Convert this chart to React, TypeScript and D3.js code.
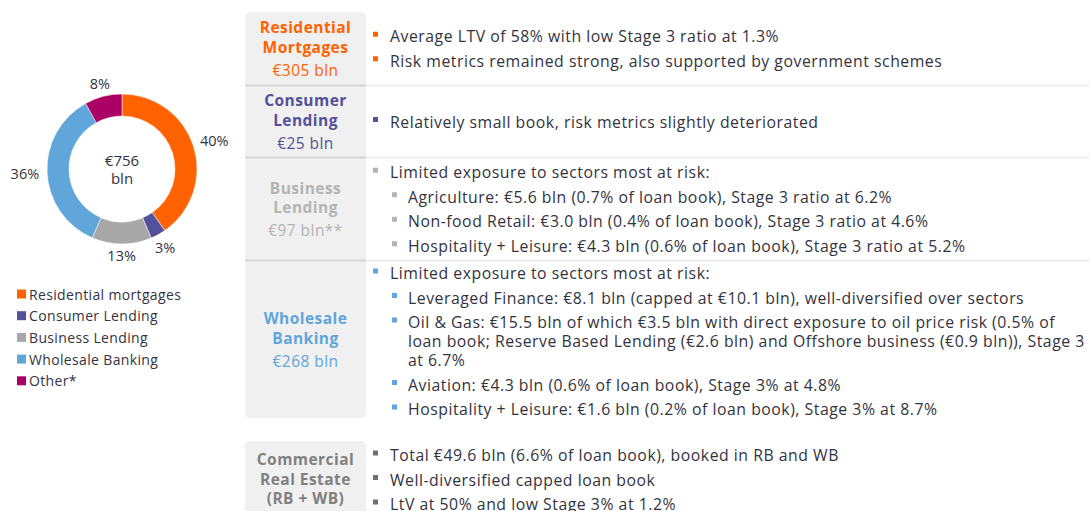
import React from "react";
import * as d3 from "d3";

// ---- Data ----
const segmentNames = ["Residential mortgages", "Consumer Lending", "Business Lending", "Wholesale Banking", "Other*"];
const segmentValues = [305, 25, 97, 268, 61];
const segmentLabels = ["40%", "3%", "13%", "36%", "8%"];
const segmentColors = ["#FF6200", "#525199", "#A8A8A8", "#60A6DA", "#AB0066"];
const totalLabel = ["€756", "bln"];

const rowTitles = [
  ["Residential", "Mortgages", "€305 bln"],
  ["Consumer", "Lending", "€25 bln"],
  ["Business", "Lending", "€97 bln**"],
  ["Wholesale", "Banking", "€268 bln"],
  ["Commercial", "Real Estate", "(RB + WB)"],
];
const rowTitleBoldCount = [2, 2, 2, 2, 3];
const rowColors = ["#FF6200", "#525199", "#B4B4B4", "#60A6DA", "#808080"];
const rowBulletColors = ["#FF6200", "#525199", "#B4B4B4", "#60A6DA", "#707070"];

// each bullet: [level, lines...]
const rowBullets: [number, string[]][][] = [
  [
    [0, ["Average LTV of 58% with low Stage 3 ratio at 1.3%"]],
    [0, ["Risk metrics remained strong, also supported by government schemes"]],
  ],
  [[0, ["Relatively small book, risk metrics slightly deteriorated"]]],
  [
    [0, ["Limited exposure to sectors most at risk:"]],
    [1, ["Agriculture: €5.6 bln (0.7% of loan book), Stage 3 ratio at 6.2%"]],
    [1, ["Non-food Retail: €3.0 bln (0.4% of loan book), Stage 3 ratio at 4.6%"]],
    [1, ["Hospitality + Leisure: €4.3 bln (0.6% of loan book), Stage 3 ratio at 5.2%"]],
  ],
  [
    [0, ["Limited exposure to sectors most at risk:"]],
    [1, ["Leveraged Finance: €8.1 bln (capped at €10.1 bln), well-diversified over sectors"]],
    [1, [
      "Oil & Gas: €15.5 bln of which €3.5 bln with direct exposure to oil price risk (0.5% of",
      "loan book; Reserve Based Lending (€2.6 bln) and Offshore business (€0.9 bln)), Stage 3",
      "at 6.7%",
    ]],
    [1, ["Aviation: €4.3 bln (0.6% of loan book), Stage 3% at 4.8%"]],
    [1, ["Hospitality + Leisure: €1.6 bln (0.2% of loan book), Stage 3% at 8.7%"]],
  ],
  [
    [0, ["Total €49.6 bln (6.6% of loan book), booked in RB and WB"]],
    [0, ["Well-diversified capped loan book"]],
    [0, ["LtV at 50% and low Stage 3% at 1.2%"]],
  ],
];

const W = 1089;
const H = 511;
const FONT = "'Open Sans', 'Noto Sans', sans-serif";
const TEXT = "#333340";

export default function App() {
  const cx = 122, cy = 169, R = 75, r = 53;
  const pie = d3.pie<number>().sort(null).value((d) => d)(segmentValues);
  const arc = d3.arc<d3.PieArcDatum<number>>().innerRadius(r).outerRadius(R);

  // table layout
  const rowTops = [12, 86, 158, 261, 441];
  const rowBottoms = [85, 157, 260, 418, 518];
  const boxX = 245, boxW = 121;
  const bulletGap = 24.5, wrapGap = 19;

  return (
    <svg width={W} height={H} style={{ position: "absolute", left: 0, top: 0, background: "#fff" }} fontFamily={FONT}>
      {/* donut */}
      <g transform={`translate(${cx},${cy})`}>
        {pie.map((p, i) => (
          <path key={i} d={arc(p) || ""} fill={segmentColors[i]} stroke="#fff" strokeWidth={0.5} />
        ))}
        {pie.map((p, i) => {
          const a = (p.startAngle + p.endAngle) / 2;
          const w = segmentLabels[i].length * 7.5;
          const rho = 86 + (w / 2) * Math.abs(Math.sin(a));
          return (
            <text key={i} x={rho * Math.sin(a)} y={-rho * Math.cos(a)} textAnchor="middle" dominantBaseline="central" fontSize={14.5} fill={TEXT}>
              {segmentLabels[i]}
            </text>
          );
        })}
        <text x={0} y={-9} textAnchor="middle" dominantBaseline="central" fontSize={15} fill={TEXT}>{totalLabel[0]}</text>
        <text x={0} y={9} textAnchor="middle" dominantBaseline="central" fontSize={15} fill={TEXT}>{totalLabel[1]}</text>
      </g>

      {/* legend */}
      {segmentNames.map((n, i) => (
        <g key={n} transform={`translate(17,${294 + i * 21.7})`}>
          <rect x={0} y={-4.5} width={9} height={9} fill={segmentColors[i]} />
          <text x={12} y={0} dominantBaseline="central" fontSize={14} letterSpacing={0.35} fill={TEXT}>{n}</text>
        </g>
      ))}

      {/* label boxes */}
      <rect x={boxX} y={rowTops[0]} width={boxW} height={rowBottoms[3] - rowTops[0]} rx={5} fill="#F0F0F0" />
      <rect x={boxX} y={rowTops[4]} width={boxW} height={rowBottoms[4] - rowTops[4]} rx={5} fill="#F0F0F0" />
      {[85.5, 157.5, 260.5].map((y) => (
        <g key={y}>
          <line x1={boxX} x2={boxX + boxW} y1={y} y2={y} stroke="#D6D6D6" strokeWidth={2} />
          <line x1={boxX + boxW} x2={W} y1={y} y2={y} stroke="#EDEDED" strokeWidth={2} />
        </g>
      ))}

      {rowTitles.map((lines, i) => {
        const center = (rowTops[i] + rowBottoms[i]) / 2;
        const bold = rowTitleBoldCount[i];
        const ys: number[] = [];
        let y = 0;
        lines.forEach((_, j) => {
          if (j > 0) y += j >= bold ? 23 : 19.5;
          ys.push(y);
        });
        const off = center - y / 2 + (i === 4 ? -1 : 0);
        return (
          <g key={i}>
            {lines.map((l, j) => (
              <text key={j} x={boxX + boxW / 2} y={off + ys[j]} textAnchor="middle" dominantBaseline="central"
                fontSize={15.5} letterSpacing={0.45} fontWeight={j < bold ? 700 : 400} fill={rowColors[i]}>
                {l}
              </text>
            ))}
          </g>
        );
      })}

      {/* bullets */}
      {rowBullets.map((bullets, i) => {
        const items: { y: number; level: number; text: string; first: boolean }[] = [];
        let y = 0;
        bullets.forEach(([level, lines], b) => {
          lines.forEach((t, k) => {
            if (b > 0 || k > 0) y += k > 0 ? wrapGap : bulletGap;
            items.push({ y, level, text: t, first: k === 0 });
          });
        });
        const center = i === 4 ? 479.5 : (rowTops[i] + rowBottoms[i]) / 2 + (i === 3 ? 1.5 : 0);
        const off = center - y / 2;
        return (
          <g key={i}>
            {items.map((it, j) => {
              const bx = it.level === 0 ? 373 : 392;
              const tx = it.level === 0 ? 390 : 408;
              return (
                <g key={j}>
                  {it.first && <rect x={bx} y={off + it.y - 4.5} width={5} height={5} fill={rowBulletColors[i]} />}
                  <text x={tx} y={off + it.y} dominantBaseline="central" fontSize={15.8} letterSpacing={0.52} fill={TEXT}>{it.text}</text>
                </g>
              );
            })}
          </g>
        );
      })}
    </svg>
  );
}
